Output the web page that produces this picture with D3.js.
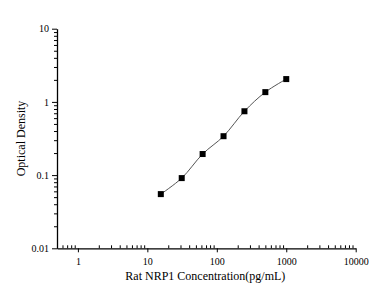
<!DOCTYPE html>
<html>
<head>
<meta charset="utf-8">
<script src="https://cdn.jsdelivr.net/npm/d3@7"></script>
<style>
  body { margin: 0; background: #fff; }
</style>
</head>
<body>
<div id="chart"></div>
<script>
// standard curve data
const concentrations = [15.625, 31.25, 62.5, 125, 250, 500, 1000];
const odValues = [0.055, 0.091, 0.194, 0.34, 0.745, 1.36, 2.05];
const xTicks = [1, 10, 100, 1000, 10000];
const yTicks = [0.01, 0.1, 1, 10];
const xTickLabels = ["1", "10", "100", "1000", "10000"];
const yTickLabels = ["0.01", "0.1", "1", "10"];

const width = 391, height = 294;
const plotLeft = 57, plotRight = 355.7, plotTop = 28.7, plotBottom = 248.3;
const serif = "'Liberation Serif', 'Times New Roman', Times, serif";

const svg = d3.select("#chart").append("svg")
  .attr("width", width)
  .attr("height", height)
  .attr("font-family", serif);

const x = d3.scaleLog().domain([0.5, 10000]).range([plotLeft, plotRight]);
const y = d3.scaleLog().domain([0.01, 10]).range([plotBottom, plotTop]);

// minor tick values
const xMinor = [];
[0.1, 1, 10, 100, 1000].forEach(d => {
  for (let k = 2; k <= 9; k++) {
    const v = d * k;
    if (v >= 0.5 && v < 10000 && !xTicks.includes(v)) xMinor.push(v);
  }
});
const yMinor = [];
[0.01, 0.1, 1].forEach(d => {
  for (let k = 2; k <= 9; k++) yMinor.push(d * k);
});

// x axis
svg.append("g")
  .attr("transform", "translate(0," + plotBottom + ")")
  .call(d3.axisBottom(x).tickValues(xMinor).tickSize(-3).tickSizeOuter(0).tickFormat(""))
  .call(g => g.select(".domain").remove());
const xAxis = svg.append("g")
  .attr("transform", "translate(0," + plotBottom + ")")
  .call(d3.axisBottom(x).tickValues(xTicks).tickSize(4).tickSizeOuter(0)
    .tickFormat((d, i) => xTickLabels[i]).tickPadding(6));
xAxis.attr("font-family", serif).attr("font-size", 10);
xAxis.selectAll("text").attr("fill", "#000");

// y axis
svg.append("g")
  .attr("transform", "translate(" + plotLeft + ",0)")
  .call(d3.axisLeft(y).tickValues(yMinor).tickSize(3).tickSizeOuter(0).tickFormat(""))
  .call(g => g.select(".domain").remove());
const yAxis = svg.append("g")
  .attr("transform", "translate(" + plotLeft + ",0)")
  .call(d3.axisLeft(y).tickValues(yTicks).tickSize(5).tickSizeOuter(0)
    .tickFormat((d, i) => yTickLabels[i]).tickPadding(3));
yAxis.attr("font-family", serif).attr("font-size", 10);
yAxis.selectAll("text").attr("fill", "#000");

svg.selectAll(".domain").attr("stroke", "#000").attr("stroke-width", 1.3);
svg.selectAll(".tick line").attr("stroke", "#000");

// fitted curve
const data = concentrations.map((c, i) => ({ c: c, od: odValues[i] }));
const line = d3.line()
  .x(d => x(d.c))
  .y(d => y(d.od))
  .curve(d3.curveCatmullRom.alpha(0.5));
svg.append("path")
  .datum(data)
  .attr("fill", "none")
  .attr("stroke", "#555")
  .attr("stroke-width", 1)
  .attr("d", line);

// points
svg.selectAll(".pt")
  .data(data)
  .enter()
  .append("rect")
  .attr("x", d => x(d.c) - 3)
  .attr("y", d => y(d.od) - 3)
  .attr("width", 6)
  .attr("height", 6)
  .attr("fill", "#000");

// axis titles
svg.append("text")
  .attr("x", (plotLeft + plotRight) / 2 - 1)
  .attr("y", 280)
  .attr("text-anchor", "middle")
  .attr("font-size", 12)
  .text("Rat NRP1 Concentration(pg/mL)");

svg.append("text")
  .attr("transform", "translate(25," + ((plotTop + plotBottom) / 2) + ") rotate(-90)")
  .attr("text-anchor", "middle")
  .attr("font-size", 12)
  .text("Optical Density");
</script>
</body>
</html>
